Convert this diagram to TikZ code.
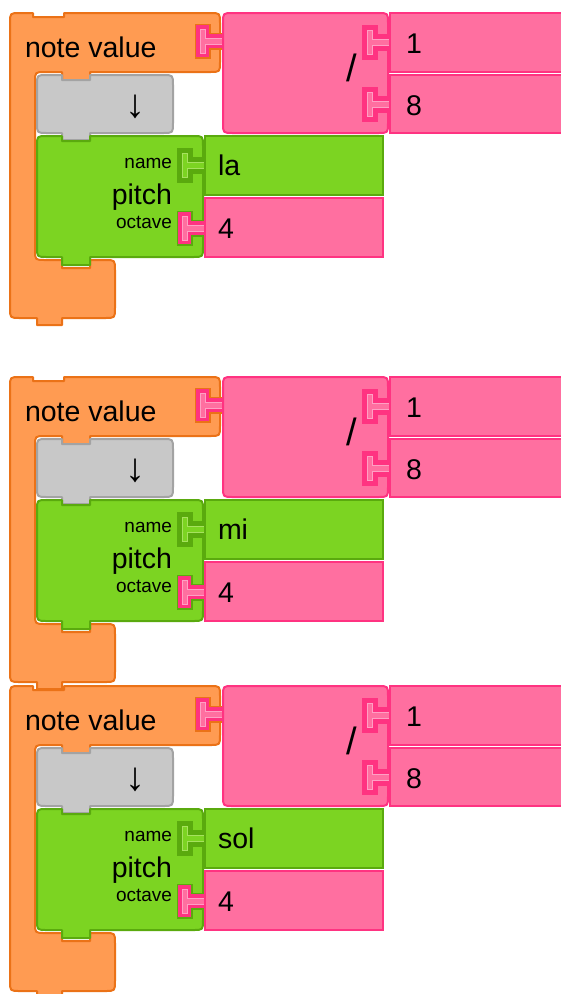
\documentclass[tikz,border=0pt]{standalone}
\usepackage{fontspec}
\setmainfont{Liberation Sans}
\definecolor{ofill}{HTML}{FF9B52}
\definecolor{ostroke}{HTML}{EB7217}
\definecolor{gfill}{HTML}{C8C8C8}
\definecolor{gstroke}{HTML}{A3A3A3}
\definecolor{nfill}{HTML}{7CD422}
\definecolor{nstroke}{HTML}{5AAA0E}
\definecolor{nlight}{HTML}{A6E25E}
\definecolor{pfill}{HTML}{FF6FA0}
\definecolor{pstroke}{HTML}{FF3381}
\definecolor{plight}{HTML}{FFA0C4}
\newcommand\mbsocket[7]{%
  \draw[draw=#4, line width=5, line join=miter] (#1,#2-15) -- (#1+11,#2-15) -- (#1+11,#2-6) -- (#3,#2-6) -- (#3,#2+6) -- (#1+11,#2+6) -- (#1+11,#2+15) -- (#1,#2+15) -- cycle;
  \draw[draw=#5, fill=#5, line width=2, line join=miter] (#1,#2-15) -- (#1+11,#2-15) -- (#1+11,#2-6) -- (#3,#2-6) -- (#3,#2+6) -- (#1+11,#2+6) -- (#1+11,#2+15) -- (#1,#2+15) -- cycle;
  \draw[draw=#7, fill=#6, line width=1] (#1+3,#2-12) -- (#1+8,#2-12) -- (#1+8,#2-3) -- (#3,#2-3) -- (#3,#2+3) -- (#1+8,#2+3) -- (#1+8,#2+12) -- (#1+3,#2+12) -- cycle;
}
\begin{document}
\begin{tikzpicture}[x=1pt,y=-1pt,
  blk/.style={line width=2, line join=round},
  ob/.style={blk, fill=ofill, draw=ostroke},
  gb/.style={blk, fill=gfill, draw=gstroke},
  nb/.style={blk, fill=nfill, draw=nstroke},
  pb/.style={blk, fill=pfill, draw=pstroke},
  txt/.style={inner sep=0, outer sep=0, text=black, font=\fontsize{28.5}{28.5}\selectfont},
  lbl/.style={inner sep=0, outer sep=0, text=black, font=\fontsize{19}{19}\selectfont},
  arrowtxt/.style={inner sep=0, outer sep=0, text=black, font=\fontsize{40}{40}\selectfont},
  slash/.style={inner sep=0, outer sep=0, text=black, font=\fontsize{38}{38}\selectfont}]
\useasboundingbox (0,0) rectangle (561,994);
\clip (0,0) rectangle (561,994);
\foreach \oy/\nm/\i in {0/la/1, 364/mi/2, 673/sol/3} {
\begin{scope}[yshift=-\oy pt]
  % orange note value C-block
  \draw[ob] (10,23) .. controls (10,13) .. (20,13) -- (33,13) -- (33,17) -- (64,17) -- (64,13)
    -- (210,13) .. controls (220,13) .. (220,23) -- (220,62) .. controls (220,72) .. (210,72)
    -- (90,72) -- (90,80) -- (62,80) -- (62,72) -- (45,72) .. controls (35,72) .. (35,82)
    -- (35,250) .. controls (35,260) .. (45,260) -- (62,260) -- (62,268) -- (90,268) -- (90,260)
    -- (105,260) .. controls (115,260) .. (115,270) -- (115,308) .. controls (115,318) .. (105,318)
    -- (62,318) -- (62,325) -- (37,325) -- (37,318) -- (20,318) .. controls (10,318) .. (10,308) -- cycle;
  \mbsocket{197}{41}{223}{ostroke}{pstroke}{pfill}{plight}
  % gray block
  \draw[gb] (37,85) .. controls (37,75) .. (47,75) -- (62,75) -- (62,80) -- (90,80) -- (90,75)
    -- (163,75) .. controls (173,75) .. (173,85) -- (173,123) .. controls (173,133) .. (163,133)
    -- (90,133) -- (90,140) -- (62,140) -- (62,133) -- (47,133) .. controls (37,133) .. (37,123) -- cycle;
  % green pitch block
  \draw[nb] (37,146) .. controls (37,136) .. (47,136) -- (62,136) -- (62,141) -- (90,141) -- (90,136)
    -- (193,136) .. controls (203,136) .. (203,146) -- (203,247) .. controls (203,257) .. (193,257)
    -- (90,257) -- (90,265) -- (62,265) -- (62,257) -- (47,257) .. controls (37,257) .. (37,247) -- cycle;
  \mbsocket{179}{165}{205}{nstroke}{nstroke}{nfill}{nlight}
  \mbsocket{179}{228}{205}{nstroke}{pstroke}{pfill}{plight}
  \draw[nb, line join=miter] (205,136) rectangle (383,195);
  \draw[pb, line join=miter] (205,198) rectangle (383,257);
  % division block
  \draw[pb] (223,23) .. controls (223,13) .. (233,13) -- (378,13) .. controls (388,13) .. (388,23)
    -- (388,123) .. controls (388,133) .. (378,133) -- (233,133) .. controls (223,133) .. (223,123) -- cycle;
  \mbsocket{364}{42}{390}{pstroke}{pstroke}{pfill}{plight}
  \mbsocket{364}{104}{390}{pstroke}{pstroke}{pfill}{plight}
  \draw[pb, line join=miter] (390,13) rectangle (575,72);
  \draw[pb, line join=miter] (390,75) rectangle (575,133);
  % texts
  \node[txt, anchor=base west] (nv\i) at (25,57) {note value};
  \node[arrowtxt] (ar\i) at (135,107) {↓};
  \node[slash, anchor=base west] (sl\i) at (346,81) {/};
  \node[txt, anchor=base west] (one\i) at (406,53) {1};
  \node[txt, anchor=base west] (eight\i) at (406,115) {8};
  \node[lbl, anchor=base east] (nm\i) at (172,168) {name};
  \node[txt, anchor=base east] (pi\i) at (172,204) {pitch};
  \node[lbl, anchor=base east] (oc\i) at (172,228) {octave};
  \node[txt, anchor=base west] (nt\i) at (218,175) {\nm};
  \node[txt, anchor=base west] (ov\i) at (218,238) {4};
\end{scope}
}
\end{tikzpicture}
\end{document}
